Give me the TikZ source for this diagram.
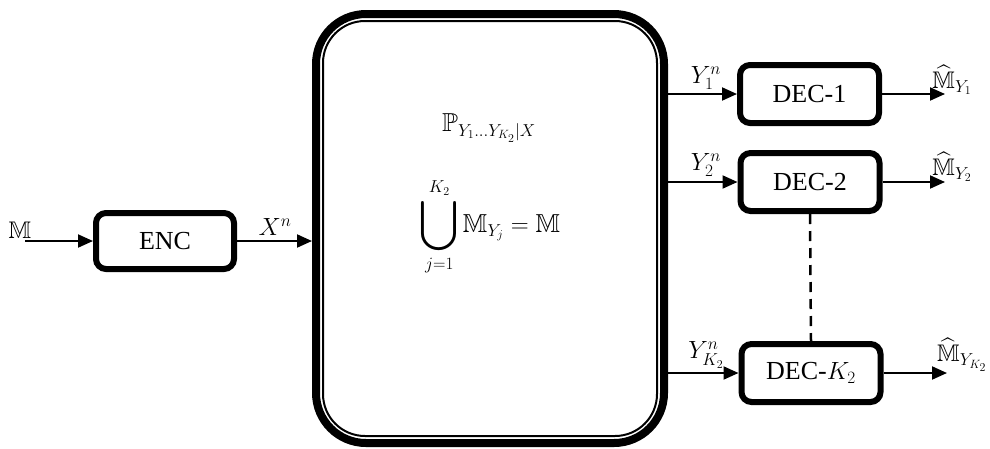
\documentclass[tikz,border=0pt]{standalone}
\usepackage{amsmath,amssymb,graphicx}
\usepackage{fontspec}
\setmainfont{Liberation Serif}
\usetikzlibrary{arrows.meta}
\begin{document}
\begin{tikzpicture}[x=1pt,y=-1pt,
  blk/.style={draw, line width=6pt, rounded corners=10pt, inner sep=0pt,
    minimum width=139pt, minimum height=58pt, font=\fontsize{26}{30}\selectfont},
  sig/.style={line width=2pt, -{Triangle[length=15pt,width=13pt]}},
  lbl/.style={font=\fontsize{24}{28}\selectfont, inner sep=0pt},
  eq/.style={font=\fontsize{26}{30}\selectfont, inner sep=0pt}]
\useasboundingbox (0,0) rectangle (990,448);
% channel
\node[draw, line width=8pt, rounded corners=50pt, minimum width=348pt, minimum height=429pt, inner sep=0pt] (ch) at (490,228.5) {};
\node[draw, line width=2pt, rounded corners=42pt, minimum width=334pt, minimum height=415pt, inner sep=0pt] (chin) at (490,228.5) {};
\node[eq] (p) at (489,128) {$\mathbb{P}_{Y_1\ldots Y_{K_2}|X}$};
\node[eq] (u) at (490,227) {$\displaystyle\mathop{\vcenter{\hbox{\scalebox{1.35}{$\displaystyle\bigcup$}}}}\limits_{j=1}^{K_2}\mathbb{M}_{Y_j}=\mathbb{M}$};
% encoder
\node[blk, minimum width=138pt, minimum height=56pt] (enc) at (165,241) {ENC};
\coordinate (in) at (25,241);
\draw[sig] (in) -- (enc.west);
\node[lbl] (m) at (20,230) {$\mathbb{M}$};
\draw[sig] (enc.east) -- (enc.east -| ch.west);
\node[lbl] (xn) at (275,227) {$X^n$};
% decoders
\node[blk] (d1) at (809.5,94) {DEC-1};
\node[blk] (d2) at (810,182) {DEC-2};
\node[blk] (dk) at (811,373) {DEC-$K_2$};
\draw[sig] (d1.west -| ch.east) -- (d1.west);
\draw[sig] (d2.west -| ch.east) -- (d2.west);
\draw[sig] (dk.west -| ch.east) -- (dk.west);
\node[lbl] (y1) at (706,78) {$Y_1^n$};
\node[lbl] (y2) at (706,165) {$Y_2^n$};
\node[lbl] (yk) at (706,355) {$Y_{K_2}^n$};
\coordinate (o1) at (945,94);
\coordinate (o2) at (945,182);
\coordinate (ok) at (947,373);
\draw[sig] (d1.east) -- (o1);
\draw[sig] (d2.east) -- (o2);
\draw[sig] (dk.east) -- (ok);
\node[lbl] (m1) at (952,80) {$\widehat{\mathbb{M}}_{Y_1}$};
\node[lbl] (m2) at (952,167) {$\widehat{\mathbb{M}}_{Y_2}$};
\node[lbl] (mk) at (962,355) {$\widehat{\mathbb{M}}_{Y_{K_2}}$};
\draw[line width=2.5pt, dash pattern=on 10pt off 7pt] (d2.south) -- (dk.north);
\end{tikzpicture}
\end{document}
